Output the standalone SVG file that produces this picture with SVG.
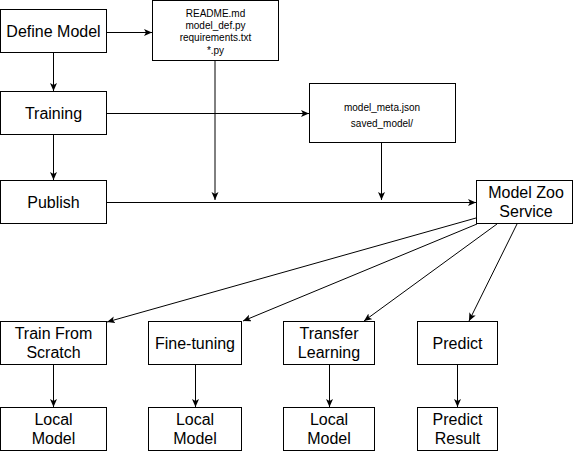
<svg xmlns="http://www.w3.org/2000/svg" width="582" height="451" viewBox="0 0 582 451">
<style>
.box{fill:#fff;stroke:#000;stroke-width:1}
.t{font-family:"Liberation Sans",Arial,Helvetica,sans-serif;font-size:16px;text-anchor:middle;fill:#000}
.s{font-family:"Liberation Sans",Arial,Helvetica,sans-serif;font-size:10px;text-anchor:middle;fill:#000}
.c{fill:none;stroke:#000;stroke-width:1}
</style>
<defs>
<marker id="ah" markerUnits="userSpaceOnUse" markerWidth="9" markerHeight="8" refX="8" refY="3.5" orient="auto">
<path d="M0,0 L8,3.5 L0,7 L2,3.5 z" fill="#000"/>
</marker>
</defs>
<g id="connectors">
<line class="c" x1="107" y1="32.5" x2="152" y2="32.5" marker-end="url(#ah)"/>
<line class="c" x1="53.5" y1="53" x2="53.5" y2="91" marker-end="url(#ah)"/>
<line class="c" x1="53.5" y1="135" x2="53.5" y2="180" marker-end="url(#ah)"/>
<line class="c" x1="107" y1="113.5" x2="309" y2="113.5" marker-end="url(#ah)"/>
<line class="c" x1="107" y1="202.5" x2="476" y2="202.5" marker-end="url(#ah)"/>
<line class="c" x1="215" y1="61" x2="215" y2="200" marker-end="url(#ah)"/>
<line class="c" x1="381.5" y1="143" x2="381.5" y2="200" marker-end="url(#ah)"/>
<line class="c" x1="476" y1="218" x2="107" y2="322" marker-end="url(#ah)"/>
<line class="c" x1="477" y1="224" x2="243" y2="321" marker-end="url(#ah)"/>
<line class="c" x1="497" y1="224" x2="364" y2="321" marker-end="url(#ah)"/>
<line class="c" x1="517" y1="224" x2="469" y2="321" marker-end="url(#ah)"/>
<line class="c" x1="53.5" y1="365" x2="53.5" y2="407" marker-end="url(#ah)"/>
<line class="c" x1="195.5" y1="365" x2="195.5" y2="407" marker-end="url(#ah)"/>
<line class="c" x1="329.5" y1="365" x2="329.5" y2="407" marker-end="url(#ah)"/>
<line class="c" x1="457.5" y1="365" x2="457.5" y2="407" marker-end="url(#ah)"/>
</g>
<g id="define-model"><rect class="box" x="0.5" y="9.5" width="106" height="43"/><text class="t" x="53.5" y="37">Define Model</text></g>
<g id="training"><rect class="box" x="0.5" y="91.5" width="106" height="43"/><text class="t" x="53.5" y="119">Training</text></g>
<g id="publish"><rect class="box" x="0.5" y="180.5" width="106" height="43"/><text class="t" x="53.5" y="208">Publish</text></g>
<g id="files"><rect class="box" x="152.5" y="0.5" width="126" height="60"/>
<text class="s" x="215.5" y="17">README.md</text>
<text class="s" x="215.5" y="29">model_def.py</text>
<text class="s" x="215.5" y="41">requirements.txt</text>
<text class="s" x="215.5" y="54">*.py</text></g>
<g id="meta"><rect class="box" x="309.5" y="83.5" width="146" height="59"/>
<text class="s" x="382" y="111">model_meta.json</text>
<text class="s" x="382" y="127">saved_model/</text></g>
<g id="model-zoo"><rect class="box" x="476.5" y="180.5" width="96" height="43"/>
<text class="t" x="526" y="198">Model Zoo</text><text class="t" x="526" y="217">Service</text></g>
<g id="train-scratch"><rect class="box" x="0.5" y="321.5" width="106" height="43"/>
<text class="t" x="53.5" y="339">Train From</text><text class="t" x="53.5" y="358">Scratch</text></g>
<g id="fine-tuning"><rect class="box" x="148.5" y="321.5" width="93" height="43"/>
<text class="t" x="195" y="349">Fine-tuning</text></g>
<g id="transfer"><rect class="box" x="283.5" y="321.5" width="91" height="43"/>
<text class="t" x="329" y="339">Transfer</text><text class="t" x="329" y="358">Learning</text></g>
<g id="predict"><rect class="box" x="417.5" y="321.5" width="80" height="43"/>
<text class="t" x="457.5" y="349">Predict</text></g>
<g id="local1"><rect class="box" x="0.5" y="407.5" width="106" height="43"/>
<text class="t" x="53.5" y="425">Local</text><text class="t" x="53.5" y="444">Model</text></g>
<g id="local2"><rect class="box" x="148.5" y="407.5" width="93" height="43"/>
<text class="t" x="195" y="425">Local</text><text class="t" x="195" y="444">Model</text></g>
<g id="local3"><rect class="box" x="283.5" y="407.5" width="91" height="43"/>
<text class="t" x="329" y="425">Local</text><text class="t" x="329" y="444">Model</text></g>
<g id="result"><rect class="box" x="417.5" y="407.5" width="80" height="43"/>
<text class="t" x="457.5" y="425">Predict</text><text class="t" x="457.5" y="444">Result</text></g>
</svg>
